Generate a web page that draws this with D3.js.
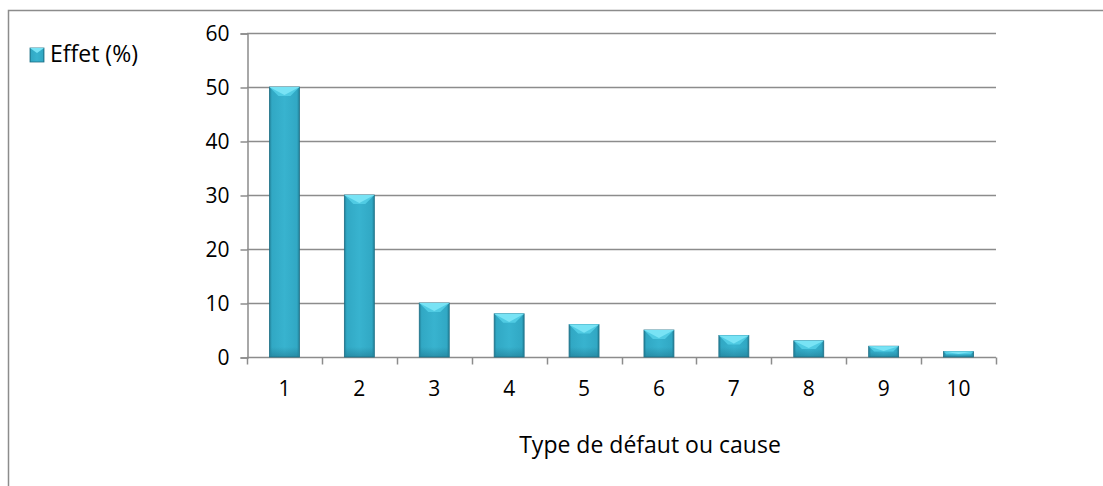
<!DOCTYPE html>
<html>
<head>
<script src="https://d3js.org/d3.v7.min.js"></script>
<style>
  body { margin: 0; background: #fff; }
  text { font-family: "Open Sans", "Liberation Sans", sans-serif; fill: #000; }
</style>
</head>
<body>
<div id="chart"></div>
<script>
const categories = ["1", "2", "3", "4", "5", "6", "7", "8", "9", "10"];
const effet = [50, 30, 10, 8, 6, 5, 4, 3, 2, 1];
const yTicks = [0, 10, 20, 30, 40, 50, 60];
const seriesName = "Effet (%)";
const xTitle = "Type de défaut ou cause";

const W = 1103, H = 486;
const margin = { left: 247, right: 107, top: 33, bottom: 129 };

const svg = d3.select("#chart").append("svg")
    .attr("width", W).attr("height", H);

const defs = svg.append("defs");
const grad = defs.append("linearGradient").attr("id", "barGrad")
    .attr("x1", 0).attr("x2", 1).attr("y1", 0).attr("y2", 0);
grad.append("stop").attr("offset", 0).attr("stop-color", "#217f97");
grad.append("stop").attr("offset", 0.08).attr("stop-color", "#31a8c4");
grad.append("stop").attr("offset", 0.5).attr("stop-color", "#38b3cf");
grad.append("stop").attr("offset", 0.92).attr("stop-color", "#31a8c4");
grad.append("stop").attr("offset", 1).attr("stop-color", "#217f97");

const vgrad = defs.append("linearGradient").attr("id", "botShade")
    .attr("x1", 0).attr("x2", 0).attr("y1", 0).attr("y2", 1);
vgrad.append("stop").attr("offset", 0).attr("stop-color", "#1d6f86").attr("stop-opacity", 0);
vgrad.append("stop").attr("offset", 1).attr("stop-color", "#1d6f86").attr("stop-opacity", 0.5);

// outer chart frame
svg.append("path")
    .attr("d", `M8.5,${H} V10.5 H${W}`)
    .attr("fill", "none").attr("stroke", "#8c8c8c").attr("stroke-width", 1.5);

const x = d3.scaleBand().domain(categories)
    .range([margin.left, W - margin.right]).paddingInner(0.6).paddingOuter(0.3);
const xb = d3.scaleBand().domain(categories)
    .range([margin.left, W - margin.right]);
const y = d3.scaleLinear().domain([0, 60]).range([H - margin.bottom, margin.top]);

// grid lines
svg.append("g").selectAll("line").data(yTicks.filter(d => d > 0)).join("line")
    .attr("x1", margin.left).attr("x2", W - margin.right)
    .attr("y1", d => Math.round(y(d)) + 0.5).attr("y2", d => Math.round(y(d)) + 0.5)
    .attr("stroke", "#8c8c8c").attr("stroke-width", 1.5);

// y axis
const yAxis = svg.append("g").attr("transform", `translate(${margin.left + 0.5},0.5)`)
    .call(d3.axisLeft(y).tickValues(yTicks).tickSize(7).tickPadding(11));
yAxis.selectAll("path, line").attr("stroke", "#8c8c8c").attr("stroke-width", 1.5);
yAxis.selectAll("text").attr("font-size", 21).attr("fill", "#000")
    .style("font-family", "'Open Sans', sans-serif");

// x axis with ticks at band boundaries
const xAxisG = svg.append("g").attr("transform", `translate(0,${Math.round(y(0)) + 0.5})`);
xAxisG.append("line").attr("x1", margin.left).attr("x2", W - margin.right)
    .attr("stroke", "#8c8c8c").attr("stroke-width", 1.5);
const bounds = categories.map(c => xb(c)).concat([W - margin.right]);
xAxisG.selectAll(".tk").data(bounds).join("line").attr("class", "tk")
    .attr("x1", d => Math.round(d) + 0.5).attr("x2", d => Math.round(d) + 0.5)
    .attr("y1", 0).attr("y2", 7)
    .attr("stroke", "#8c8c8c").attr("stroke-width", 1.5);
xAxisG.selectAll(".lb").data(categories).join("text").attr("class", "lb")
    .attr("x", d => xb(d) + xb.bandwidth() / 2).attr("y", 38)
    .attr("text-anchor", "middle").attr("font-size", 21).text(d => d);

// bars with bevel top
const bars = svg.append("g").selectAll("g").data(effet).join("g");
bars.each(function(v, i) {
    const g = d3.select(this);
    const x0 = x(categories[i]), w = x.bandwidth();
    const top = y(v), bot = y(0);
    const h = bot - top;
    const bev = Math.min(9, h * 0.5);
    g.append("rect").attr("x", x0).attr("y", top).attr("width", w).attr("height", h)
        .attr("fill", "url(#barGrad)").attr("stroke", "#1d6f86").attr("stroke-width", 0.8);
    // bottom shading
    const sh = Math.min(10, h * 0.5);
    g.append("rect").attr("x", x0 + 1).attr("y", bot - sh).attr("width", w - 2).attr("height", sh)
        .attr("fill", "url(#botShade)");
    // top bevel: side facets then lighter centre triangle
    g.append("path")
        .attr("d", `M${x0},${top} L${x0 + w},${top} L${x0 + w - bev},${top + bev} L${x0 + bev},${top + bev} Z`)
        .attr("fill", "#50cbe3");
    g.append("path")
        .attr("d", `M${x0},${top} L${x0 + w},${top} L${x0 + w / 2},${top + bev * 0.9} Z`)
        .attr("fill", "#78e3f5");
});

// legend
const lg = svg.append("g").attr("transform", "translate(30,48)");
lg.append("rect").attr("width", 14).attr("height", 14).attr("fill", "url(#barGrad)")
    .attr("stroke", "#1d6f86").attr("stroke-width", 0.8);
lg.append("path").attr("d", "M0,0 L14,0 L7,5 Z").attr("fill", "#78e3f5");
lg.append("text").attr("x", 20).attr("y", 14).attr("font-size", 23).text(seriesName);

// x title
svg.append("text").attr("x", 650).attr("y", 453)
    .attr("text-anchor", "middle").attr("font-size", 23).text(xTitle);
</script>
</body>
</html>
